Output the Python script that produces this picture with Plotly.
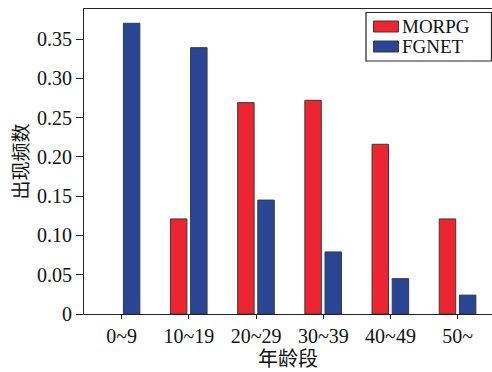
import plotly.graph_objects as go

# Age-group frequency distribution for two datasets
age_groups = ["0~9", "10~19", "20~29", "30~39", "40~49", "50~"]
morpg = [None, 0.121, 0.269, 0.272, 0.216, 0.121]
fgnet = [0.370, 0.339, 0.145, 0.079, 0.045, 0.024]
y_ticks = [0, 0.05, 0.10, 0.15, 0.20, 0.25, 0.30, 0.35]
y_ticklabels = ["0", "0.05", "0.10", "0.15", "0.20", "0.25", "0.30", "0.35"]

RED = "#EC2530"
BLUE = "#284596"
EDGE = "#3a3a3a"
SERIF = "Liberation Serif, DejaVu Serif, serif"
CJK = "Noto Sans CJK SC"

W, H = 492, 372
ML, MR, MT, MB = 84, 0, 9, 58
PW, PH = W - ML - MR, H - MT - MB

x_idx = list(range(len(age_groups)))

fig = go.Figure()
fig.add_trace(go.Bar(
    x=x_idx, y=morpg, name="MORPG", width=0.245, offset=-0.275,
    marker=dict(color=RED, line=dict(color=EDGE, width=1)),
    showlegend=False,
))
fig.add_trace(go.Bar(
    x=x_idx, y=fgnet, name="FGNET", width=0.245, offset=0.025,
    marker=dict(color=BLUE, line=dict(color=EDGE, width=1)),
    showlegend=False,
))


def px_x(px):
    return (px - ML) / PW


def px_y(py):
    return 1 - (py - MT) / PH


# Legend box with swatches and labels
shapes = [
    dict(type="rect", xref="paper", yref="paper",
         x0=px_x(366), x1=px_x(491.5), y0=px_y(61), y1=px_y(12.5),
         line=dict(color="#222", width=1.2), fillcolor="white"),
]
annotations = []
for i, (label, color) in enumerate([("MORPG", RED), ("FGNET", BLUE)]):
    cy = 26.5 + 20 * i
    shapes.append(dict(type="rect", xref="paper", yref="paper",
                       x0=px_x(373.5), x1=px_x(398.5),
                       y0=px_y(cy + 5.5), y1=px_y(cy - 5.5),
                       line=dict(color=EDGE, width=1), fillcolor=color))
    annotations.append(dict(xref="paper", yref="paper", x=px_x(401), y=px_y(cy),
                            text=label, showarrow=False, xanchor="left",
                            yanchor="middle", borderpad=0,
                            font=dict(family=SERIF, size=19, color="#111")))

fig.update_layout(
    width=W, height=H,
    margin=dict(l=ML, r=MR, t=MT, b=MB, pad=0),
    paper_bgcolor="white", plot_bgcolor="white",
    barmode="overlay",
    shapes=shapes, annotations=annotations,
    xaxis=dict(
        range=[-0.561, 5.51], tickmode="array", tickvals=x_idx,
        ticktext=age_groups, ticks="outside", ticklen=4, tickwidth=1.2,
        tickcolor="#222", showline=True, linecolor="#222", linewidth=1.2,
        mirror=True, showgrid=False, zeroline=False,
        tickfont=dict(family=SERIF, size=20, color="#111"),
        title=dict(text="年龄段", standoff=0,
                   font=dict(family=CJK, size=20, color="#111")),
    ),
    yaxis=dict(
        range=[0, 0.3882], tickmode="array", tickvals=y_ticks,
        ticktext=y_ticklabels, ticks="outside", ticklen=7, tickwidth=1.2,
        tickcolor="#222", showline=True, linecolor="#222", linewidth=1.2,
        showgrid=False, zeroline=False,
        tickfont=dict(family=SERIF, size=20, color="#111"),
        title=dict(text="出现频数", standoff=3,
                   font=dict(family=CJK, size=19, color="#111")),
    ),
)

fig.write_html("out.html")
